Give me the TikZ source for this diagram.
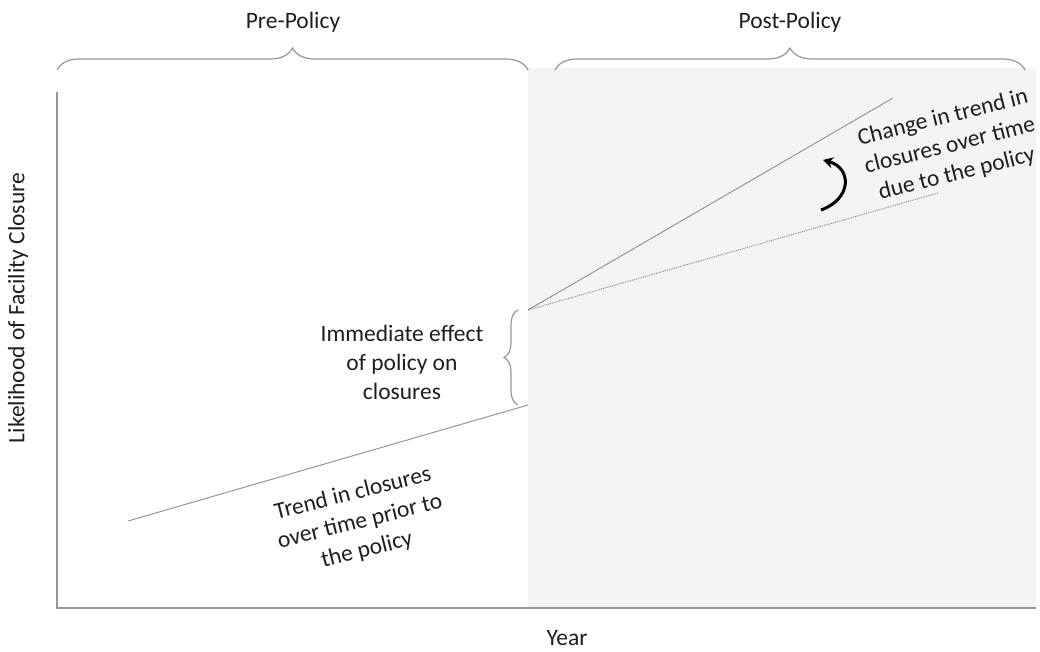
\documentclass[tikz,border=0pt]{standalone}
\usepackage{fontspec}
\setmainfont{Carlito}
\usetikzlibrary{decorations.pathreplacing,arrows.meta}

\definecolor{linegray}{RGB}{150,150,150}
\definecolor{periodgray}{RGB}{244,244,244}
\definecolor{txt}{RGB}{30,30,30}

\tikzset{
  lbl/.style={text=txt, font=\fontsize{23.5}{29}\selectfont, inner sep=0pt, align=center},
  trend/.style={draw=linegray, line width=1pt},
  bracegray/.style={draw=linegray, line width=1.2pt, decorate,
    decoration={brace, amplitude=#1}}
}

\begin{document}
\begin{tikzpicture}[x=1pt, y=-1pt]
  \useasboundingbox (0,0) rectangle (1040,652);

  % Post-policy period
  \fill[periodgray] (528,68) rectangle (1036,608);

  % Axes
  \draw[linegray, line width=1.2pt] (57,92) -- (57,608) -- (1036,608);
  \node[lbl, rotate=90] (ylab) at (18,308) {Likelihood of Facility Closure};
  \node[lbl] (xlab) at (567,638) {Year};

  % Period braces
  \draw[bracegray=22] (57,70) -- (528,70);
  \draw[bracegray=22] (555,70) -- (1025,70);
  \node[lbl] (pre) at (293,22) {Pre-Policy};
  \node[lbl] (post) at (790,22) {Post-Policy};

  % Trend lines
  \coordinate (start) at (128,521);
  \coordinate (cut) at (528,405);
  \coordinate (jump) at (528,310);
  \coordinate (newend) at (893,98);
  \coordinate (oldend) at (938,193);
  \draw[trend] (start) -- (cut);
  \draw[trend] (jump) -- (newend);
  \draw[gray, line width=0.9pt, densely dotted] (jump) -- (oldend);

  % Immediate effect
  \draw[bracegray=14] (518,405) -- (518,310);
  \node[lbl] (effect) at (402,362) {Immediate effect\\of policy on\\closures};

  % Change in slope
  \draw[black, line width=3pt, -{Stealth[length=10pt,width=11pt]}]
    (821,210) .. controls (852,199) and (852,168) .. (823,160);
  \node[lbl, rotate=14] (slope) at (950,146) {Change in trend in\\closures over time\\due to the policy};

  % Pre-policy trend label
  \node[lbl, rotate=14] (pretrend) at (360,522) {Trend in closures\\over time prior to\\the policy};
\end{tikzpicture}
\end{document}
